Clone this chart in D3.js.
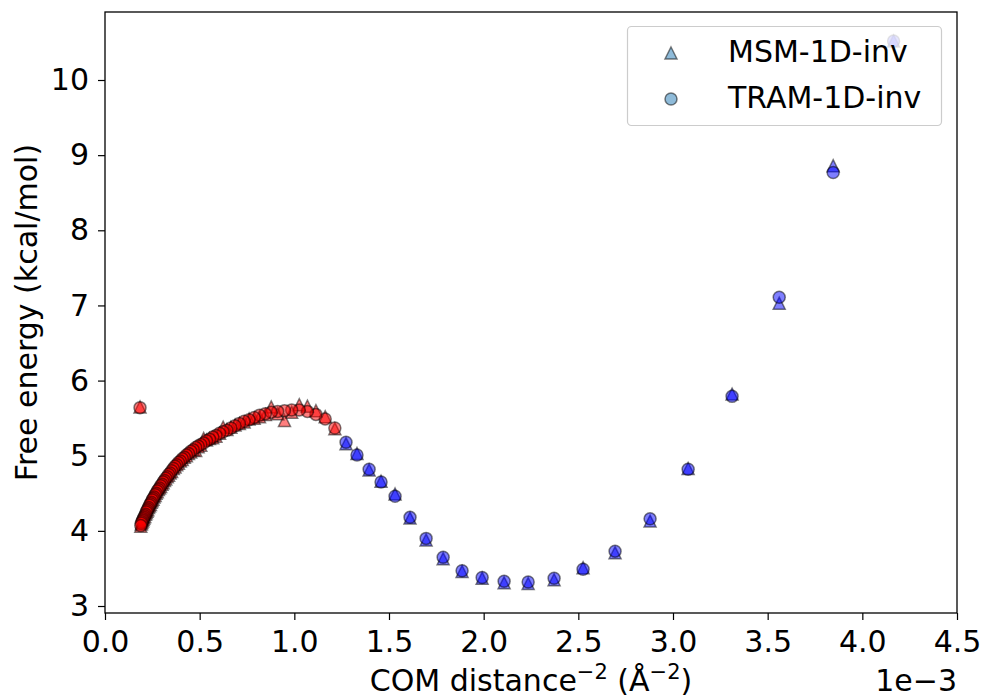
<!DOCTYPE html>
<html lang="en">
<head>
    <meta charset="UTF-8">
    <title>Free energy vs COM distance</title>
    <style>
        body {
            margin: 0;
            background: #fff;
            font-family: "DejaVu Sans", sans-serif;
        }
        .tick text {
            font-size: 30px;
            fill: #000;
        }
        .axis-label {
            font-size: 30px;
            fill: #000;
        }
        .legend-text {
            font-size: 30px;
            fill: #000;
        }
    </style>
</head>
<body>
    <svg id="chart" width="983" height="700"></svg>

    <script src="https://d3js.org/d3.v7.min.js"></script>
    <script>
        // x values are in units of 1e-3 (A^-2)
        // red part of the curve (dense, large distances)
        const redX = [1.214, 1.163, 1.114, 1.069, 1.026, 0.986, 0.948, 0.912, 0.878, 0.847,
            0.816, 0.788, 0.761, 0.735, 0.710, 0.687, 0.665, 0.644, 0.624, 0.605,
            0.586, 0.569, 0.552, 0.536, 0.521, 0.506, 0.492, 0.479, 0.466, 0.453,
            0.441, 0.430, 0.419, 0.408, 0.398, 0.388, 0.379, 0.370, 0.361, 0.352,
            0.344, 0.336, 0.329, 0.321, 0.314, 0.307, 0.301, 0.294, 0.288, 0.282,
            0.276, 0.270, 0.265, 0.259, 0.254, 0.249, 0.244, 0.240, 0.235, 0.230,
            0.226, 0.222, 0.218, 0.214, 0.210, 0.206, 0.202, 0.199, 0.195, 0.192,
            0.189, 0.185];
        const redTram = [5.37, 5.49, 5.55, 5.59, 5.61, 5.61, 5.60, 5.59, 5.58, 5.56,
            5.54, 5.51, 5.48, 5.46, 5.43, 5.40, 5.37, 5.34, 5.32, 5.30,
            5.27, 5.25, 5.22, 5.20, 5.17, 5.15, 5.13, 5.11, 5.08, 5.06,
            5.03, 5.01, 4.98, 4.96, 4.93, 4.91, 4.88, 4.86, 4.83, 4.80,
            4.77, 4.75, 4.72, 4.70, 4.67, 4.65, 4.62, 4.60, 4.57, 4.55,
            4.53, 4.50, 4.48, 4.45, 4.43, 4.41, 4.38, 4.36, 4.34, 4.31,
            4.29, 4.27, 4.25, 4.22, 4.20, 4.18, 4.16, 4.14, 4.12, 4.10,
            4.07, 5.64];
        const redMsm = [5.36, 5.52, 5.60, 5.66, 5.68, 5.58, 5.47, 5.56, 5.65, 5.55,
            5.52, 5.50, 5.49, 5.45, 5.43, 5.41, 5.38, 5.35, 5.38, 5.30,
            5.26, 5.24, 5.23, 5.21, 5.23, 5.14, 5.12, 5.07, 5.08, 5.05,
            5.03, 5.00, 4.98, 4.95, 4.93, 4.90, 4.88, 4.85, 4.83, 4.79,
            4.77, 4.74, 4.72, 4.69, 4.67, 4.64, 4.62, 4.59, 4.57, 4.55,
            4.52, 4.50, 4.47, 4.45, 4.42, 4.40, 4.38, 4.35, 4.33, 4.31,
            4.28, 4.26, 4.24, 4.22, 4.19, 4.17, 4.15, 4.13, 4.11, 4.09,
            4.06, 5.65];

        // blue part (sparse, short distances)
        const blueX = [1.273, 1.331, 1.395, 1.458, 1.532, 1.611, 1.696, 1.786, 1.886, 1.992,
            2.108, 2.235, 2.372, 2.525, 2.694, 2.879, 3.080, 3.312, 3.561, 3.846, 4.165];
        const blueTram = [5.18, 5.01, 4.82, 4.65, 4.46, 4.18, 3.90, 3.65, 3.47, 3.38,
            3.33, 3.32, 3.37, 3.49, 3.73, 4.16, 4.82, 5.79, 7.11, 8.77, 10.52];
        const blueMsm = [5.16, 5.03, 4.81, 4.66, 4.49, 4.17, 3.88, 3.63, 3.46, 3.37,
            3.31, 3.30, 3.35, 3.51, 3.71, 4.13, 4.83, 5.82, 7.03, 8.86, 10.52];

        const xTicks = [0, 0.5, 1.0, 1.5, 2.0, 2.5, 3.0, 3.5, 4.0, 4.5];
        const yTicks = [3, 4, 5, 6, 7, 8, 9, 10];
        const legendLabels = ["MSM-1D-inv", "TRAM-1D-inv"];

        const svg = d3.select("#chart");
        const mLeft = 105, mRight = 957, mTop = 12, mBottom = 613;

        const x = d3.scaleLinear().domain([0, 4.5]).range([mLeft, mRight]);
        const y = d3.scaleLinear().domain([2.907, 10.905]).range([mBottom, mTop]);

        const R = 6; // marker half size
        const triangle = `M0,${-R}L${R},${R}L${-R},${R}Z`;

        // axes
        const xAxis = svg.append("g")
            .attr("transform", `translate(0,${mBottom})`)
            .call(d3.axisBottom(x).tickValues(xTicks).tickFormat(d3.format(".1f")).tickSize(7).tickPadding(11));
        const yAxis = svg.append("g")
            .attr("transform", `translate(${mLeft},0)`)
            .call(d3.axisLeft(y).tickValues(yTicks).tickFormat(d3.format("d")).tickSize(7).tickPadding(9));
        [xAxis, yAxis].forEach(a => {
            a.select(".domain").remove();
            a.selectAll(".tick line").attr("stroke", "#000").attr("stroke-width", 1.2);
            a.selectAll(".tick text").attr("font-family", "DejaVu Sans");
        });

        // frame
        svg.append("rect")
            .attr("x", mLeft).attr("y", mTop)
            .attr("width", mRight - mLeft).attr("height", mBottom - mTop)
            .attr("fill", "none").attr("stroke", "#000").attr("stroke-width", 1.3);

        function drawSeries(xs, ys, color, shape) {
            const g = svg.append("g");
            const pts = xs.map((v, i) => [v, ys[i]]);
            if (shape === "tri") {
                g.selectAll("path").data(pts).join("path")
                    .attr("d", triangle)
                    .attr("transform", d => `translate(${x(d[0])},${y(d[1])})`)
                    .attr("fill", color).attr("fill-opacity", 0.5)
                    .attr("stroke", "#000").attr("stroke-opacity", 0.5).attr("stroke-width", 1.5);
            } else {
                g.selectAll("circle").data(pts).join("circle")
                    .attr("cx", d => x(d[0])).attr("cy", d => y(d[1])).attr("r", R)
                    .attr("fill", color).attr("fill-opacity", 0.5)
                    .attr("stroke", "#000").attr("stroke-opacity", 0.5).attr("stroke-width", 1.5);
            }
        }

        drawSeries(redX, redMsm, "#ff0000", "tri");
        drawSeries(blueX, blueMsm, "#0000ff", "tri");
        drawSeries(redX, redTram, "#ff0000", "circle");
        drawSeries(blueX, blueTram, "#0000ff", "circle");

        // legend
        const lg = svg.append("g");
        lg.append("rect")
            .attr("x", 627.5).attr("y", 26.5).attr("width", 314).attr("height", 99)
            .attr("rx", 4).attr("fill", "#fff").attr("fill-opacity", 0.8)
            .attr("stroke", "#cccccc").attr("stroke-width", 1.2);
        legendLabels.forEach((name, i) => {
            const cy = 53 + i * 46;
            if (i === 0) {
                lg.append("path").attr("d", triangle).attr("transform", `translate(671,${cy})`)
                    .attr("fill", "#1f77b4").attr("fill-opacity", 0.5)
                    .attr("stroke", "#000").attr("stroke-opacity", 0.5).attr("stroke-width", 1.5);
            } else {
                lg.append("circle").attr("cx", 671).attr("cy", cy).attr("r", R)
                    .attr("fill", "#1f77b4").attr("fill-opacity", 0.5)
                    .attr("stroke", "#000").attr("stroke-opacity", 0.5).attr("stroke-width", 1.5);
            }
            lg.append("text").attr("class", "legend-text")
                .attr("x", 728).attr("y", cy + 9)
                .text(name);
        });

        // axis labels
        const xl = svg.append("text").attr("class", "axis-label")
            .attr("x", (mLeft + mRight) / 2).attr("y", 691)
            .attr("text-anchor", "middle");
        xl.append("tspan").text("COM distance");
        xl.append("tspan").attr("font-size", "21px").attr("dy", -12).text("\u22122");
        xl.append("tspan").attr("dy", 12).text(" (\u00c5");
        xl.append("tspan").attr("font-size", "21px").attr("dy", -12).text("\u22122");
        xl.append("tspan").attr("dy", 12).text(")");

        svg.append("text").attr("class", "axis-label")
            .attr("transform", `translate(37,${(mTop + mBottom) / 2}) rotate(-90)`)
            .attr("text-anchor", "middle")
            .text("Free energy (kcal/mol)");

        svg.append("text").attr("class", "axis-label")
            .attr("x", mRight).attr("y", 691)
            .attr("text-anchor", "end")
            .text("1e\u22123");
    </script>
</body>
</html>
